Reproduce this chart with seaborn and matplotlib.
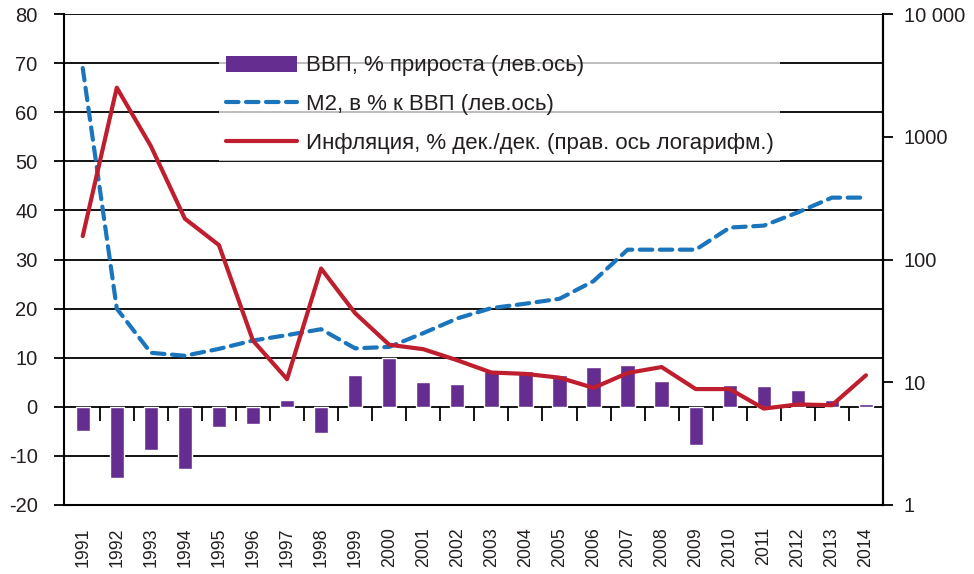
import numpy as np
import pandas as pd
import matplotlib
matplotlib.use("Agg")
import matplotlib.pyplot as plt
import seaborn as sns
from matplotlib.ticker import FixedLocator, NullLocator, FixedFormatter
from matplotlib.patches import Patch
from matplotlib.lines import Line2D

years = [str(y) for y in range(1991, 2015)]
gdp = [-5.0, -14.5, -8.7, -12.7, -4.1, -3.6, 1.4, -5.3, 6.4, 10.0, 5.1, 4.7,
       7.3, 7.2, 6.4, 8.2, 8.5, 5.2, -7.8, 4.5, 4.3, 3.4, 1.3, 0.6]
m2 = [69.0, 20.0, 11.0, 10.4, 11.8, 13.5, 14.6, 15.8, 11.9, 12.2, 15.0, 18.0,
      20.1, 21.0, 22.0, 25.6, 32.0, 32.0, 32.0, 36.5, 36.9, 39.6, 42.6, 42.6]
inflation = [155, 2510, 840, 215, 131, 21.8, 10.6, 84.4, 36.5, 20.2, 18.6, 15.1,
             12.0, 11.7, 10.9, 9.0, 11.9, 13.3, 8.8, 8.8, 6.1, 6.6, 6.5, 11.4]
left_ticks = [-20, -10, 0, 10, 20, 30, 40, 50, 60, 70, 80]
right_ticks = [1, 10, 100, 1000, 10000]
right_labels = ["1", "10", "100", "1000", "10 000"]
labels = ["ВВП, % прироста (лев.ось)", "M2, в % к ВВП (лев.ось)",
          "Инфляция, % дек./дек. (прав. ось логарифм.)"]

c_bar = "#662D91"
c_m2 = "#1B75BC"
c_inf = "#BE1E2D"
txt = "#231F20"

sns.set_theme(style="white")
plt.rcParams["font.family"] = ["Liberation Sans", "DejaVu Sans"]

df = pd.DataFrame({"year": years, "idx": np.arange(len(years)), "gdp": gdp,
                   "m2": m2, "inf": inflation})

fig = plt.figure(figsize=(9.74, 5.74), dpi=100)
ax = fig.add_axes([64/974, 1-505/574, (883-64)/974, 491/574])

sns.barplot(data=df, x="idx", y="gdp", color=c_bar, width=0.42, ax=ax,
            saturation=1, native_scale=True, zorder=2)
sns.lineplot(data=df, x="idx", y="m2", color=c_m2, lw=3.0, ax=ax, zorder=3)
ax.lines[-1].set_dashes([3.0, 1.8])
ax.lines[-1].set_dash_capstyle("round")

ax.set_ylim(-20, 80)
ax.set_xlim(-0.55, 23.5)
ax.set_yticks(left_ticks)
ax.set_yticklabels([str(t) for t in left_ticks], fontsize=14.5, color=txt)
ax.yaxis.grid(True, color="black", lw=1.3, zorder=0)
ax.set_axisbelow(True)
ax.tick_params(axis="y", which="major", left=True, right=True, labelright=False,
               direction="out", length=7, width=1.3, color="black", pad=12)
ax.set_xticks(range(len(years)))
ax.set_xticklabels(years, rotation=90, fontsize=12.8, color=txt)
ax.tick_params(axis="x", length=0, pad=16)
ax.set_xlabel("")
ax.set_ylabel("")
for s in ["left", "right", "bottom"]:
    ax.spines[s].set_visible(True)
    ax.spines[s].set_color("black")
    ax.spines[s].set_linewidth(1.5)
ax.spines["top"].set_visible(False)

# category boundary ticks on the zero line
sec = ax.secondary_xaxis(0.2)
sec.set_xticks([i + 0.5 for i in range(len(years) - 1)])
sec.set_xticklabels([])
sec.tick_params(axis="x", direction="out", length=10, width=1.3, color="black")
sec.spines["bottom"].set_visible(False)

ax2 = ax.twinx()
sns.lineplot(data=df, x="idx", y="inf", color=c_inf, lw=3.0, ax=ax2,
             solid_joinstyle="round")
ax2.set_yscale("log")
ax2.set_ylim(1, 10000)
ax2.yaxis.set_major_locator(FixedLocator(right_ticks))
ax2.yaxis.set_major_formatter(FixedFormatter(right_labels))
ax2.yaxis.set_minor_locator(NullLocator())
ax2.tick_params(axis="y", direction="out", length=7, width=1.3, color="black",
                labelsize=14.5, labelcolor=txt, pad=8)
ax2.set_ylabel("")
ax2.set_xlabel("")
for s in ["top", "left", "bottom"]:
    ax2.spines[s].set_visible(False)
ax2.spines["right"].set_color("black")
ax2.spines["right"].set_linewidth(1.5)
ax2.set_xlim(-0.55, 23.5)

handles = [Patch(facecolor=c_bar, edgecolor="none"),
           Line2D([], [], color=c_m2, lw=3.0, dashes=[3.0, 1.8], dash_capstyle="round"),
           Line2D([], [], color=c_inf, lw=3.0, solid_capstyle="round")]
leg = ax2.legend(handles, labels, loc="upper left", bbox_to_anchor=(0.176, 0.952),
                 fontsize=16, frameon=True, framealpha=0.72, edgecolor="none",
                 facecolor="white", handlelength=3.2, handleheight=0.72,
                 labelspacing=0.8, borderpad=0.3, handletextpad=0.4, fancybox=False)
for t in leg.get_texts():
    t.set_color(txt)

fig.savefig("out.png", dpi=100)
